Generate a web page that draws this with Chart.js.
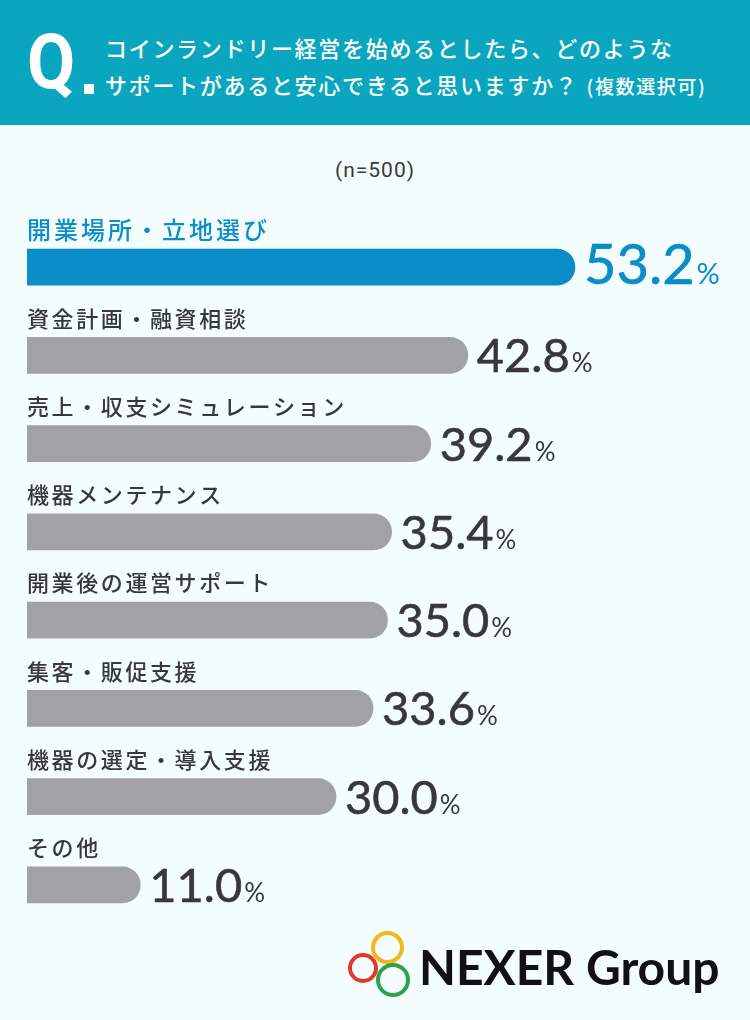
<!DOCTYPE html>
<html lang="ja">
<head>
<meta charset="utf-8">
<script src="https://cdn.jsdelivr.net/npm/chart.js@4"></script>
<style>
    html, body {
        margin: 0;
        padding: 0;
        width: 750px;
        height: 1020px;
        background: #f4fdfe;
        overflow: hidden;
        font-family: "Noto Sans CJK JP", "Noto Sans", sans-serif;
    }
    .header {
        position: absolute;
        left: 0;
        top: 0;
        width: 750px;
        height: 125px;
        background: #0aa6bf;
    }
    .q-mark {
        position: absolute;
        left: 27px;
        top: 25px;
        font-family: Roboto, sans-serif;
        font-weight: 700;
        font-size: 76px;
        line-height: 74px;
        color: #fff;
        transform: scaleX(0.92);
        transform-origin: left center;
    }
    .q-dot {
        position: absolute;
        left: 84px;
        top: 84px;
        width: 10px;
        height: 10px;
        background: #fff;
    }
    .q-line {
        position: absolute;
        left: 105px;
        color: #fff;
        font-size: 22px;
        font-weight: 500;
        letter-spacing: 1.7px;
        white-space: nowrap;
    }
    .q-line small {
        font-size: 19px;
        letter-spacing: 1.6px;
        margin-left: 8px;
    }
    .sample {
        position: absolute;
        left: 0;
        width: 750px;
        top: 158px;
        text-align: center;
        font-family: Roboto, sans-serif;
        font-size: 21px;
        letter-spacing: 1px;
        color: #3a3a3a;
    }
    #chart {
        position: absolute;
        left: 0;
        top: 0;
    }
    .ring {
        position: absolute;
        border-radius: 50%;
        box-sizing: border-box;
        border-style: solid;
        border-width: 4px;
    }
    .logo-text {
        position: absolute;
        left: 419px;
        top: 937px;
        font-family: Lato, sans-serif;
        font-weight: 700;
        font-size: 48px;
        line-height: 60px;
        color: #111;
        white-space: nowrap;
    }
</style>
</head>
<body>
<div class="header">
    <div class="q-mark">Q</div>
    <div class="q-dot"></div>
    <div class="q-line" style="top: 31px;">コインランドリー経営を始めるとしたら、どのような</div>
    <div class="q-line" style="top: 68px;">サポートがあると安心できると思いますか？<small>(複数選択可)</small></div>
</div>
<div class="sample">(n=500)</div>
<canvas id="chart" width="750" height="1020"></canvas>
<div class="ring" style="left: 348px; top: 953px; width: 30px; height: 30px; border-color: #e2392d;"></div>
<div class="ring" style="left: 371px; top: 931px; width: 33px; height: 33px; border-color: #f3b71b;"></div>
<div class="ring" style="left: 376px; top: 963px; width: 34px; height: 34px; border-color: #2ea24b;"></div>
<div class="logo-text">NEXER Group</div>

<script>
const categories = [
    '開業場所・立地選び',
    '資金計画・融資相談',
    '売上・収支シミュレーション',
    '機器メンテナンス',
    '開業後の運営サポート',
    '集客・販促支援',
    '機器の選定・導入支援',
    'その他'
];
const values = [53.2, 42.8, 39.2, 35.4, 35.0, 33.6, 30.0, 11.0];
const valueLabels = ['53.2', '42.8', '39.2', '35.4', '35.0', '33.6', '30.0', '11.0'];

const highlightColor = '#0a8dc9';
const barGray = '#a1a2a6';
const textDark = '#383838';

// labels above each bar + percentage to the right
const barTextPlugin = {
    id: 'barText',
    afterDatasetsDraw(chart) {
        const ctx = chart.ctx;
        const meta = chart.getDatasetMeta(0);
        const left = chart.chartArea.left;

        meta.data.forEach((bar, i) => {
            const first = i === 0;
            const color = first ? highlightColor : textDark;

            ctx.save();
            ctx.fillStyle = color;
            ctx.strokeStyle = color;
            ctx.textBaseline = 'middle';
            ctx.textAlign = 'left';
            ctx.font = (first ? '500 24px' : '500 22px') + ' "Noto Sans CJK JP", sans-serif';
            ctx.letterSpacing = first ? '3px' : '2.6px';
            ctx.fillText(categories[i], left, bar.y - 37);
            ctx.letterSpacing = '0px';

            // number, slightly thickened
            ctx.textBaseline = 'alphabetic';
            const baseY = bar.y + 17;
            const numX = bar.x + 9;
            ctx.font = (first ? '56px' : '47px') + ' Lato, sans-serif';
            ctx.lineWidth = 0.6;
            ctx.fillText(valueLabels[i], numX, baseY);
            ctx.strokeText(valueLabels[i], numX, baseY);
            const w = ctx.measureText(valueLabels[i]).width;
            ctx.font = (first ? '29px' : '26px') + ' Lato, sans-serif';
            ctx.fillText('%', numX + w + 2, baseY);
            ctx.restore();
        });
    }
};

new Chart(document.getElementById('chart').getContext('2d'), {
    type: 'bar',
    data: {
        labels: categories,
        datasets: [{
            data: values,
            backgroundColor: values.map((v, i) => i === 0 ? highlightColor : barGray),
            barThickness: 36,
            borderRadius: 18,
            borderSkipped: 'start'
        }]
    },
    options: {
        indexAxis: 'y',
        responsive: false,
        animation: false,
        events: [],
        layout: {
            padding: { left: 27, right: 2, top: 223, bottom: 91 }
        },
        scales: {
            x: { display: false, min: 0, max: 70 },
            y: { display: false }
        },
        plugins: {
            legend: { display: false },
            tooltip: { enabled: false },
            title: { display: false }
        }
    },
    plugins: [barTextPlugin]
});
</script>
</body>
</html>
